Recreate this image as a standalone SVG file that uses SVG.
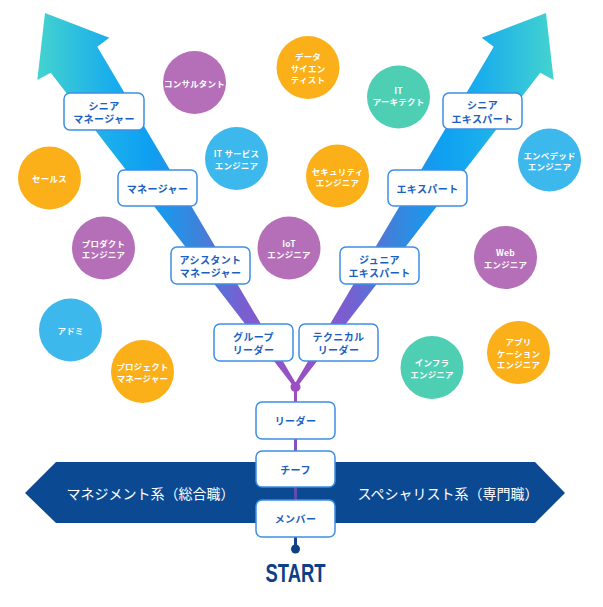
<svg xmlns="http://www.w3.org/2000/svg" width="603" height="607" viewBox="0 0 603 607">
<defs>
<linearGradient id="gl" gradientUnits="userSpaceOnUse" x1="37" y1="0" x2="297" y2="0">
<stop offset="0" stop-color="#44d3cf"/>
<stop offset="0.28" stop-color="#1aaeec"/>
<stop offset="0.43" stop-color="#0ea0f2"/>
<stop offset="0.61" stop-color="#3a84dc"/>
<stop offset="0.78" stop-color="#7660d2"/>
<stop offset="1" stop-color="#9b4fc2"/>
</linearGradient>
<linearGradient id="gr" gradientUnits="userSpaceOnUse" x1="554" y1="0" x2="294" y2="0">
<stop offset="0" stop-color="#44d3cf"/>
<stop offset="0.28" stop-color="#1aaeec"/>
<stop offset="0.43" stop-color="#0ea0f2"/>
<stop offset="0.61" stop-color="#3a84dc"/>
<stop offset="0.78" stop-color="#7660d2"/>
<stop offset="1" stop-color="#9b4fc2"/>
</linearGradient>
<linearGradient id="gv" gradientUnits="userSpaceOnUse" x1="0" y1="387" x2="0" y2="549">
<stop offset="0" stop-color="#9b4fc2"/>
<stop offset="0.5" stop-color="#8050c0"/>
<stop offset="0.75" stop-color="#4a4aa8"/>
<stop offset="1" stop-color="#0f3f84"/>
</linearGradient>
<style>
.box{fill:#fff;stroke:#3d8fe3;stroke-width:1.5}
.bt{font-family:"Noto Sans CJK JP","Noto Sans",sans-serif;font-weight:700;font-size:10px;letter-spacing:0.4px;fill:#1c5fc2;text-anchor:middle;dominant-baseline:central}
.ct{font-family:"Noto Sans CJK JP","Noto Sans",sans-serif;font-weight:700;font-size:8.5px;letter-spacing:0.2px;fill:#fff;text-anchor:middle;dominant-baseline:central}
.bn{font-family:"Noto Sans CJK JP","Noto Sans",sans-serif;font-weight:400;font-size:14px;fill:#fff;text-anchor:middle;dominant-baseline:central}
.or{fill:#fbaf19}
.pu{fill:#b56fb8}
.sk{fill:#3cb8ed}
.te{fill:#4ecfb4}
</style>
</defs>

<g id="arrows">
<polygon id="arrow-left" points="45,13 109.3,37.7 97.3,46.7 297.5,386 293.2,386 50.7,72.7 37.3,80" fill="url(#gl)"/>
<polygon id="arrow-right" points="546,13 481.7,37.7 493.7,46.7 293.5,386 297.8,386 540.3,72.7 553.7,80" fill="url(#gr)"/>
</g>

<g id="banner">
<polygon points="25,493 56,462 535,462 565,493 535,523 56,523" fill="#0b4a92"/>
<text class="bn" x="150.5" y="493">マネジメント系（総合職）</text>
<text class="bn" x="448" y="493">スペシャリスト系（専門職）</text>
</g>

<g id="connectors">
<line x1="295.5" y1="387" x2="295.5" y2="549" stroke="url(#gv)" stroke-width="3"/>
<circle cx="295.5" cy="387" r="5" fill="#9b4fc2"/>
<circle cx="295.5" cy="549" r="4.5" fill="#0f3f84"/>
</g>

<g id="start">
<text x="295.5" y="582" font-family="'Liberation Sans',sans-serif" font-weight="700" font-size="26" fill="#0d3f86" text-anchor="middle" textLength="60" lengthAdjust="spacingAndGlyphs">START</text>
</g>

<g id="box-senior-manager"><rect class="box" x="64" y="93" width="80" height="37" rx="6"/><text class="bt"><tspan x="104" y="104.8">シニア</tspan><tspan x="104" y="118.3">マネージャー</tspan></text></g>
<g id="box-manager"><rect class="box" x="118" y="170" width="79" height="36" rx="6"/><text class="bt" x="157.5" y="188">マネージャー</text></g>
<g id="box-senior-expert"><rect class="box" x="443" y="93" width="79" height="36" rx="6"/><text class="bt"><tspan x="482.5" y="104.3">シニア</tspan><tspan x="482.5" y="117.8">エキスパート</tspan></text></g>
<g id="box-expert"><rect class="box" x="388" y="170" width="79" height="36" rx="6"/><text class="bt" x="427.5" y="188">エキスパート</text></g>
<g id="box-assistant-manager"><rect class="box" x="171" y="247" width="79" height="37" rx="6"/><text class="bt"><tspan x="210.5" y="258.8">アシスタント</tspan><tspan x="210.5" y="272.3">マネージャー</tspan></text></g>
<g id="box-junior-expert"><rect class="box" x="340" y="247" width="79" height="37" rx="6"/><text class="bt"><tspan x="379.5" y="258.8">ジュニア</tspan><tspan x="379.5" y="272.3">エキスパート</tspan></text></g>
<g id="box-group-leader"><rect class="box" x="214" y="324" width="79" height="37" rx="6"/><text class="bt"><tspan x="253.5" y="335.8">グループ</tspan><tspan x="253.5" y="349.3">リーダー</tspan></text></g>
<g id="box-technical-leader"><rect class="box" x="299" y="324" width="79" height="37" rx="6"/><text class="bt"><tspan x="338.5" y="335.8">テクニカル</tspan><tspan x="338.5" y="349.3">リーダー</tspan></text></g>
<g id="box-leader"><rect class="box" x="256" y="402" width="79" height="37" rx="6"/><text class="bt" x="295.5" y="420.5">リーダー</text></g>
<g id="box-chief"><rect class="box" x="256" y="451" width="79" height="36" rx="6"/><text class="bt" x="295.5" y="469">チーフ</text></g>
<g id="box-member"><rect class="box" x="256" y="500" width="79" height="37" rx="6"/><text class="bt" x="295.5" y="518.5">メンバー</text></g>

<g id="c-consultant"><circle class="pu" cx="194.5" cy="82.5" r="31.5"/><text class="ct" x="194.5" y="82.5">コンサルタント</text></g>
<g id="c-data-scientist"><circle class="or" cx="308" cy="67.5" r="31.5"/><text class="ct"><tspan x="308" y="56">データ</tspan><tspan x="308" y="67.5">サイエン</tspan><tspan x="308" y="79">ティスト</tspan></text></g>
<g id="c-it-architect"><circle class="te" cx="398.5" cy="97" r="31.5"/><text class="ct"><tspan x="398.5" y="89.5">IT</tspan><tspan x="398.5" y="101">アーキテクト</tspan></text></g>
<g id="c-it-service"><circle class="sk" cx="236.5" cy="158.5" r="31.5"/><text class="ct"><tspan x="236.5" y="153">IT サービス</tspan><tspan x="236.5" y="164.5">エンジニア</tspan></text></g>
<g id="c-sales"><circle class="or" cx="49.5" cy="178" r="31.5"/><text class="ct" x="49.5" y="178">セールス</text></g>
<g id="c-security"><circle class="or" cx="337.5" cy="176" r="31.5"/><text class="ct"><tspan x="337.5" y="170.5">セキュリティ</tspan><tspan x="337.5" y="182">エンジニア</tspan></text></g>
<g id="c-iot"><circle class="pu" cx="289" cy="248" r="31.5"/><text class="ct"><tspan x="289" y="242.5">IoT</tspan><tspan x="289" y="254">エンジニア</tspan></text></g>
<g id="c-embedded"><circle class="sk" cx="549.5" cy="160" r="31.5"/><text class="ct"><tspan x="549.5" y="154.5">エンベデッド</tspan><tspan x="549.5" y="166">エンジニア</tspan></text></g>
<g id="c-product"><circle class="pu" cx="103.5" cy="248" r="31.5"/><text class="ct"><tspan x="103.5" y="242.5">プロダクト</tspan><tspan x="103.5" y="254">エンジニア</tspan></text></g>
<g id="c-web"><circle class="pu" cx="505.5" cy="257.5" r="31.5"/><text class="ct"><tspan x="505.5" y="252">Web</tspan><tspan x="505.5" y="263.5">エンジニア</tspan></text></g>
<g id="c-admin"><circle class="sk" cx="70.5" cy="330" r="31.5"/><text class="ct" x="70.5" y="330">アドミ</text></g>
<g id="c-project-manager"><circle class="or" cx="142.5" cy="371.5" r="31.5"/><text class="ct"><tspan x="142.5" y="366">プロジェクト</tspan><tspan x="142.5" y="377.5">マネージャー</tspan></text></g>
<g id="c-infra"><circle class="te" cx="432" cy="367.5" r="31.5"/><text class="ct"><tspan x="432" y="362">インフラ</tspan><tspan x="432" y="373.5">エンジニア</tspan></text></g>
<g id="c-application"><circle class="or" cx="518.5" cy="352.5" r="31.5"/><text class="ct"><tspan x="518.5" y="341">アプリ</tspan><tspan x="518.5" y="352.5">ケーション</tspan><tspan x="518.5" y="364">エンジニア</tspan></text></g>
</svg>
